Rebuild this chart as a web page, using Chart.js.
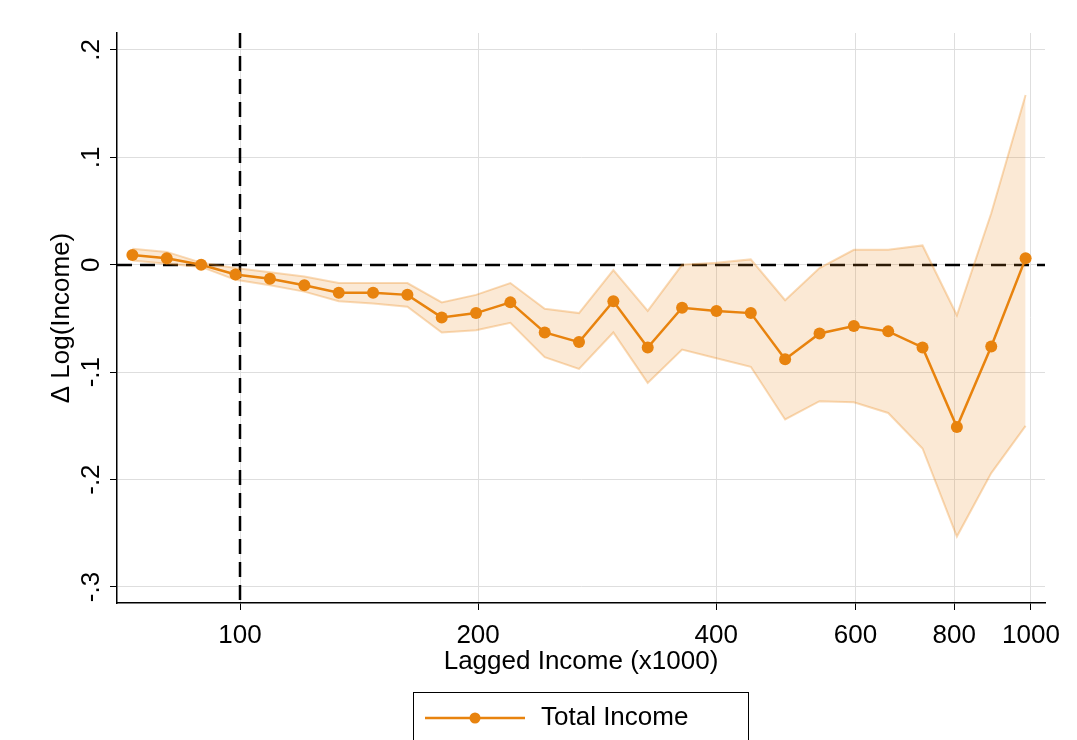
<!DOCTYPE html>
<html>
<head>
<meta charset="utf-8">
<script src="https://cdn.jsdelivr.net/npm/chart.js@4.4.0/dist/chart.umd.min.js"></script>
<style>
  html, body { margin: 0; padding: 0; background: #fff; }
</style>
</head>
<body>
<canvas id="chart" width="1077" height="740"></canvas>
<script>
// lagged income bins (x1000)
const income = [73.1, 80.8, 89.3, 98.7, 109.1, 120.6, 133.3, 147.3, 162.8, 179.9, 198.8, 219.7, 242.8, 268.3,
  296.5, 327.7, 362.2, 400.3, 442.4, 488.9, 540.4, 597.2, 660.0, 729.4, 806.1, 890.9, 984.6];
const estimate = [0.009, 0.006, 0.000, -0.009, -0.013, -0.019, -0.026, -0.026, -0.028, -0.049, -0.045, -0.035, -0.063, -0.072,
  -0.034, -0.077, -0.040, -0.043, -0.045, -0.088, -0.064, -0.057, -0.062, -0.077, -0.151, -0.076, 0.006];
const upperCI = [0.015, 0.012, 0.002, -0.003, -0.007, -0.011, -0.017, -0.017, -0.017, -0.035, -0.028, -0.017, -0.041, -0.045,
  -0.005, -0.043, 0.000, 0.002, 0.005, -0.033, -0.003, 0.014, 0.014, 0.018, -0.047, 0.048, 0.158];
const lowerCI = [0.004, 0.001, -0.002, -0.014, -0.019, -0.025, -0.034, -0.036, -0.039, -0.063, -0.061, -0.054, -0.086, -0.097,
  -0.063, -0.110, -0.079, -0.087, -0.095, -0.144, -0.127, -0.128, -0.138, -0.171, -0.253, -0.194, -0.150];

const xTicks = [100, 200, 400, 600, 800, 1000];
const yTicks = [-0.3, -0.2, -0.1, 0, 0.1, 0.2];
const yTickLabels = ['-.3', '-.2', '-.1', '0', '.1', '.2'];
const seriesLabel = 'Total Income';
const xTitle = 'Lagged Income (x1000)';
const yTitle = '\u0394 Log(Income)';

const ORANGE = '#e8830e';
const BAND_FILL = 'rgba(236,140,30,0.19)';
const BAND_EDGE = 'rgba(236,140,30,0.32)';
const FONT = '"Liberation Sans", Arial, sans-serif';

function pts(ys) {
  return income.map((v, i) => ({ x: v, y: ys[i] }));
}

// dashed reference lines, rotated y labels, titles and the boxed legend
const decor = {
  id: 'decor',
  beforeDatasetsDraw(chart) {
    const { ctx, chartArea: a, scales: { x, y } } = chart;
    ctx.save();
    ctx.strokeStyle = '#000';
    ctx.lineWidth = 2.5;
    ctx.setLineDash([15, 8]);
    const x0 = Math.round(x.getPixelForValue(100));
    ctx.beginPath(); ctx.moveTo(x0, a.top); ctx.lineTo(x0, a.bottom); ctx.stroke();
    const y0 = Math.round(y.getPixelForValue(0));
    ctx.beginPath(); ctx.moveTo(a.left, y0); ctx.lineTo(a.right, y0); ctx.stroke();
    ctx.restore();
  },
  afterDraw(chart) {
    const { ctx, chartArea: a, scales: { y } } = chart;
    ctx.save();
    ctx.fillStyle = '#000';
    ctx.font = '26px ' + FONT;
    ctx.textAlign = 'center';
    ctx.textBaseline = 'middle';

    yTicks.forEach((v, i) => {
      ctx.save();
      ctx.translate(92, y.getPixelForValue(v));
      ctx.rotate(-Math.PI / 2);
      ctx.fillText(yTickLabels[i], 0, 0);
      ctx.restore();
    });

    ctx.save();
    ctx.translate(62, (a.top + a.bottom) / 2);
    ctx.rotate(-Math.PI / 2);
    ctx.fillText(yTitle, 0, 0);
    ctx.restore();

    ctx.fillText(xTitle, (a.left + a.right) / 2, 662);

    // legend box (runs off the bottom edge like the original)
    ctx.strokeStyle = '#000';
    ctx.lineWidth = 1;
    ctx.strokeRect(413.5, 692.5, 335, 60);
    ctx.strokeStyle = ORANGE;
    ctx.lineWidth = 2.5;
    ctx.beginPath(); ctx.moveTo(425, 718); ctx.lineTo(525, 718); ctx.stroke();
    ctx.fillStyle = ORANGE;
    ctx.beginPath(); ctx.arc(475, 718, 5.5, 0, Math.PI * 2); ctx.fill();
    ctx.fillStyle = '#000';
    ctx.textAlign = 'left';
    ctx.fillText(seriesLabel, 541, 718);
    ctx.restore();
  }
};

new Chart(document.getElementById('chart'), {
  type: 'line',
  data: {
    datasets: [
      {
        label: seriesLabel,
        data: pts(estimate),
        borderColor: ORANGE,
        backgroundColor: ORANGE,
        borderWidth: 2.5,
        pointRadius: 6,
        pointBorderWidth: 0,
        pointBackgroundColor: ORANGE,
        fill: false
      },
      {
        label: 'upper',
        data: pts(upperCI),
        borderColor: BAND_EDGE,
        borderWidth: 2,
        backgroundColor: BAND_FILL,
        pointRadius: 0,
        fill: '+1'
      },
      {
        label: 'lower',
        data: pts(lowerCI),
        borderColor: BAND_EDGE,
        borderWidth: 2,
        pointRadius: 0,
        fill: false
      }
    ]
  },
  options: {
    responsive: false,
    animation: false,
    layout: { padding: { top: 33, right: 32, left: 0, bottom: 0 } },
    plugins: {
      legend: { display: false },
      tooltip: { enabled: false }
    },
    scales: {
      x: {
        type: 'logarithmic',
        min: 69.9,
        max: 1041.8,
        afterBuildTicks: (s) => { s.ticks = xTicks.map(v => ({ value: v })); },
        afterFit: (s) => { s.height = 137; },
        grid: { color: '#dedede', lineWidth: 1, tickColor: '#000', tickLength: 7 },
        border: { color: '#000', width: 1.5 },
        ticks: {
          autoSkip: false,
          maxRotation: 0,
          padding: 10,
          color: '#000',
          font: { family: FONT, size: 26 },
          callback: (v) => String(v)
        }
      },
      y: {
        type: 'linear',
        min: -0.3149,
        max: 0.2158,
        afterBuildTicks: (s) => { s.ticks = yTicks.map(v => ({ value: v })); },
        afterFit: (s) => { s.width = 117; },
        grid: { color: '#dedede', lineWidth: 1, tickColor: '#000', tickLength: 7 },
        border: { color: '#000', width: 1.5 },
        ticks: { display: false }
      }
    }
  },
  plugins: [decor]
});
</script>
</body>
</html>
